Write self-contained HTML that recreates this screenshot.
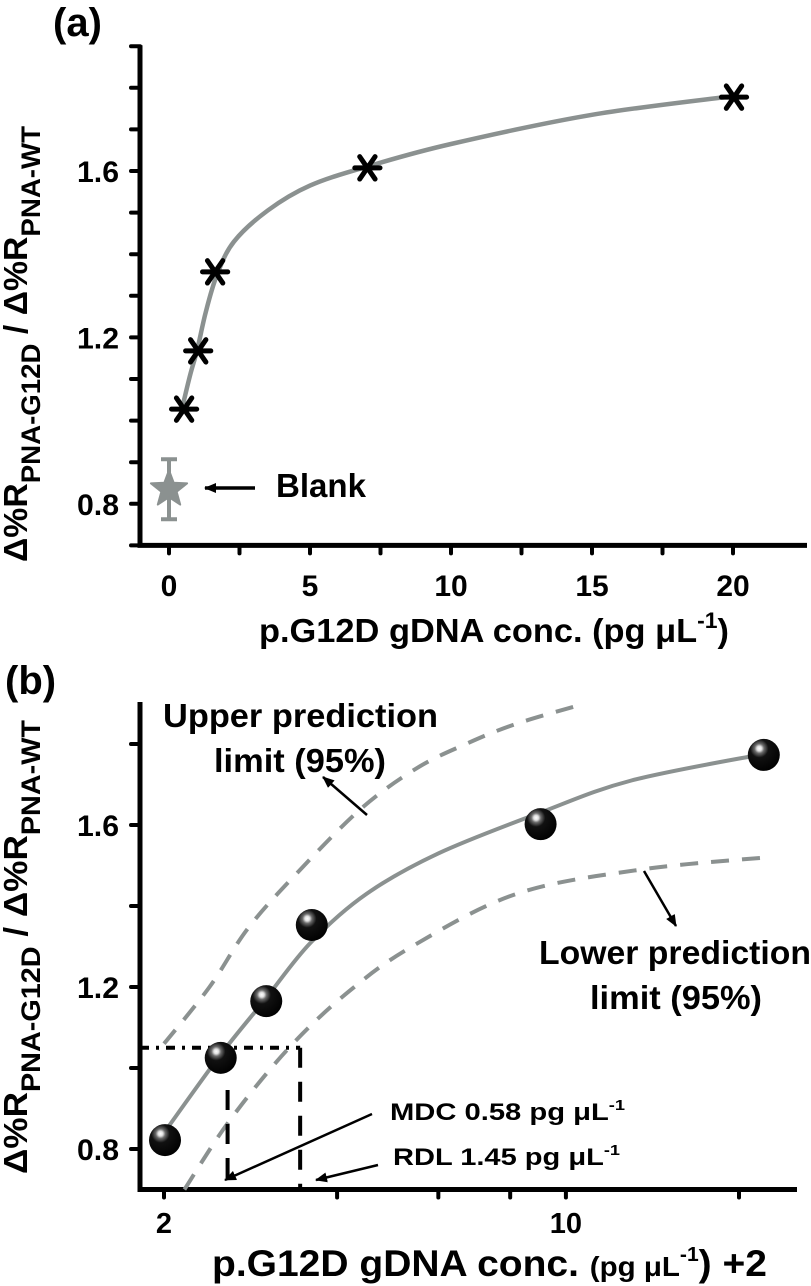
<!DOCTYPE html>
<html><head><meta charset="utf-8"><style>
html,body{margin:0;padding:0;background:#fff;}
svg{display:block;font-family:"Liberation Sans",sans-serif;font-weight:bold;}
</style></head><body>
<svg id="fig" width="811" height="1286" viewBox="0 0 811 1286" xmlns="http://www.w3.org/2000/svg">
<defs>
<radialGradient id="ball" cx="0.36" cy="0.3" r="0.75">
<stop offset="0" stop-color="#ffffff"/><stop offset="0.1" stop-color="#e0e0e0"/><stop offset="0.2" stop-color="#6a6a6a"/><stop offset="0.38" stop-color="#111"/><stop offset="1" stop-color="#000"/>
</radialGradient>
<marker id="arr" markerWidth="12" markerHeight="10" refX="11" refY="5" orient="auto" markerUnits="userSpaceOnUse"><path d="M0,0 L12,5 L0,10 z" fill="#000"/></marker>
</defs>
<g id="pa"></g>
<g id="pb"></g>
</svg>
<script>
// ---- Panel (a) data ----
const aConc = [0.5, 1, 1.6, 7, 20];
const aRatio = [1.03, 1.17, 1.36, 1.61, 1.78];
const aBlankConc = [0];
const aBlankRatio = [0.835];
const aBlankErr = [0.072];
const aFitX = [0.5, 0.75, 1, 1.3, 1.7, 2.3, 3.5, 5, 7, 10, 15, 20];
const aFitY = [1.04, 1.11, 1.17, 1.26, 1.35, 1.43, 1.505, 1.565, 1.61, 1.665, 1.735, 1.78];
const aXTicks = [0, 5, 10, 15, 20];
const aXMinor = [2.5, 7.5, 12.5, 17.5];
const aYTicks = [0.8, 1.2, 1.6];
const aYMinor = [0.7, 0.9, 1.0, 1.1, 1.3, 1.4, 1.5, 1.7, 1.8, 1.9];
// ---- Panel (b) data ----
const bConc = [2, 2.5, 3, 3.6, 9, 22];
const bRatio = [0.827, 1.03, 1.17, 1.358, 1.607, 1.778];
const bFitX = [2, 2.5, 3, 3.6, 4.5, 6, 9, 13, 22];
const bFitY = [0.84, 1.03, 1.17, 1.31, 1.43, 1.53, 1.63, 1.71, 1.775];
const bUpX = [2, 2.4, 2.8, 3.4, 4.4, 5.5, 6.7, 8.2, 10.8];
const bUpY = [1.06, 1.2, 1.345, 1.48, 1.64, 1.74, 1.80, 1.85, 1.90];
const bLoX = [2.17, 2.6, 3.3, 4.2, 5.4, 8.2, 13.5, 22.3];
const bLoY = [0.70, 0.87, 1.05, 1.19, 1.30, 1.43, 1.49, 1.52];
const bMDC = [2.58];
const bRDL = [3.45];
const bCritical = [1.05];
const bXTicks = [2, 10];
const bXMinor = [4, 6, 8, 20];
const bYTicks = [0.8, 1.2, 1.6];
const bYMinor = [1.0, 1.4, 1.8];

const NS = "http://www.w3.org/2000/svg";
function mk(parent, tag, attrs, text){
  const e = document.createElementNS(NS, tag);
  for (const k in attrs) e.setAttribute(k, attrs[k]);
  if (text !== undefined) e.textContent = text;
  parent.appendChild(e);
  return e;
}
const GRAY = "#8b9190";
const ax = v => 169 + v * 28.2;
const ay = v => 171 + (1.6 - v) * 416;
const bx = v => 164 + Math.log10(v / 2) * 575;
const by = v => 825 + (1.6 - v) * 405;

function smooth(pts){
  let d = 'M' + pts[0][0].toFixed(1) + ' ' + pts[0][1].toFixed(1);
  for (let i = 0; i < pts.length - 1; i++){
    const p0 = pts[i-1] || pts[i], p1 = pts[i], p2 = pts[i+1], p3 = pts[i+2] || p2;
    const c1 = [p1[0] + (p2[0]-p0[0])/6, p1[1] + (p2[1]-p0[1])/6];
    const c2 = [p2[0] - (p3[0]-p1[0])/6, p2[1] - (p3[1]-p1[1])/6];
    d += ` C${c1[0].toFixed(1)} ${c1[1].toFixed(1)} ${c2[0].toFixed(1)} ${c2[1].toFixed(1)} ${p2[0].toFixed(1)} ${p2[1].toFixed(1)}`;
  }
  return d;
}

const pa = document.getElementById('pa');
const pb = document.getElementById('pb');

// ===== Panel A =====
let t = mk(pa, 'text', {x: 53, y: 36, 'font-size': 40});
t.textContent = '(a)';



let l = mk(pa, 'path', {d: `M140 ${ay(1.9)-1} V${ay(0.7)} H807`, stroke: '#000', 'stroke-width': 5, fill: 'none'});


aYTicks.concat(aYMinor).forEach(v => {
  const tk = mk(pa, 'line', {x1: 131, x2: 140, y1: ay(v), y2: ay(v), stroke: '#000', 'stroke-width': 4, 'stroke-linecap': 'round'});
  
  
});
aYTicks.forEach(v => {
  const tl = mk(pa, 'text', {x: 119, y: ay(v) + 11, 'font-size': 30, 'text-anchor': 'end', textLength: 42, lengthAdjust: 'spacingAndGlyphs'}, v.toFixed(1));
  
  
});
aXTicks.concat(aXMinor).forEach(v => {
  const tk = mk(pa, 'line', {x1: ax(v), x2: ax(v), y1: ay(0.7), y2: ay(0.7) + 8, stroke: '#000', 'stroke-width': 4, 'stroke-linecap': 'round'});
  
  
});
aXTicks.forEach(v => {
  const tl = mk(pa, 'text', {x: ax(v), y: 596, 'font-size': 30, 'text-anchor': 'middle'}, String(v));
  
  
});
l = mk(pa, 'path', {d: smooth(aFitX.map((x, i) => [ax(x), ay(aFitY[i])])), stroke: GRAY, 'stroke-width': 4.5, fill: 'none'});


aConc.forEach((c, i) => {
  const cx = ax(c) + 1, cy = ay(aRatio[i]) + 1, r = 14;
  const g = mk(pa, 'g', {stroke: '#000', 'stroke-width': 5, 'stroke-linecap': 'round'});
  
  
  mk(g, 'line', {x1: cx - r * 0.9, y1: cy, x2: cx + r * 0.9, y2: cy});
  mk(g, 'line', {x1: cx - r * 0.55, y1: cy - r * 0.8, x2: cx + r * 0.55, y2: cy + r * 0.8});
  mk(g, 'line', {x1: cx + r * 0.55, y1: cy - r * 0.8, x2: cx - r * 0.55, y2: cy + r * 0.8});
});
aBlankConc.forEach((c, i) => {
  const cx = ax(c), cy = ay(aBlankRatio[i]);
  const g = mk(pa, 'g', {});
  
  
  const yt = ay(aBlankRatio[i] + aBlankErr[i]), yb = ay(aBlankRatio[i] - aBlankErr[i]);
  mk(g, 'path', {d: `M${cx-8} ${yt} H${cx+8} M${cx} ${yt} V${yb} M${cx-8} ${yb} H${cx+8}`, stroke: GRAY, 'stroke-width': 4, fill: 'none'});
  let pts = [];
  for (let k = 0; k < 10; k++) {
    const ang = -Math.PI / 2 + k * Math.PI / 5, rr = k % 2 ? 8 : 19;
    pts.push((cx + rr * Math.cos(ang)).toFixed(1) + ',' + (cy + rr * Math.sin(ang)).toFixed(1));
  }
  mk(g, 'polygon', {points: pts.join(' '), fill: GRAY, stroke: GRAY, 'stroke-width': 2, 'stroke-linejoin': 'round'});
});
l = mk(pa, 'line', {x1: 255, y1: 488, x2: 205, y2: 488, stroke: '#000', 'stroke-width': 3.5, 'marker-end': 'url(#arr)'});


t = mk(pa, 'text', {x: 276, y: 497, 'font-size': 33, textLength: 90, lengthAdjust: 'spacingAndGlyphs'}, 'Blank');


t = mk(pa, 'text', {x: 0, y: 0, 'font-size': 33, transform: 'translate(27,562) rotate(-90)', textLength: 436, lengthAdjust: 'spacingAndGlyphs'});
t.innerHTML = 'Δ%R<tspan font-size="27" dy="13">PNA-G12D</tspan><tspan dy="-13"> / Δ%R</tspan><tspan font-size="27" dy="13">PNA-WT</tspan>';


t = mk(pa, 'text', {x: 259, y: 642, 'font-size': 33, textLength: 470, lengthAdjust: 'spacingAndGlyphs'});
t.innerHTML = 'p.G12D gDNA conc. (pg μL<tspan font-size="22" dy="-14">-1</tspan><tspan dy="14">)</tspan>';



// ===== Panel B =====
t = mk(pb, 'text', {x: 5, y: 694, 'font-size': 40});
t.textContent = '(b)';



l = mk(pb, 'path', {d: `M140 702 V${by(0.7)} H797`, stroke: '#000', 'stroke-width': 5, fill: 'none'});


bYTicks.concat(bYMinor).forEach(v => {
  const tk = mk(pb, 'line', {x1: 131, x2: 140, y1: by(v), y2: by(v), stroke: '#000', 'stroke-width': 4, 'stroke-linecap': 'round'});
  
  
});
bYTicks.forEach(v => {
  const tl = mk(pb, 'text', {x: 119, y: by(v) + 11, 'font-size': 30, 'text-anchor': 'end', textLength: 42, lengthAdjust: 'spacingAndGlyphs'}, v.toFixed(1));
  
  
});
bXTicks.concat(bXMinor).forEach(v => {
  const tk = mk(pb, 'line', {x1: bx(v), x2: bx(v), y1: by(0.7), y2: by(0.7) + 8, stroke: '#000', 'stroke-width': 4, 'stroke-linecap': 'round'});
  
  
});
bXTicks.forEach(v => {
  const tl = mk(pb, 'text', {x: bx(v), y: 1233, 'font-size': 29, 'text-anchor': 'middle'}, String(v));
  
  
});
l = mk(pb, 'path', {d: smooth(bUpX.map((x, i) => [bx(x), by(bUpY[i])])), stroke: GRAY, 'stroke-width': 4, fill: 'none', 'stroke-dasharray': '18 13'});


l = mk(pb, 'path', {d: smooth(bLoX.map((x, i) => [bx(x), by(bLoY[i])])), stroke: GRAY, 'stroke-width': 4, fill: 'none', 'stroke-dasharray': '18 13'});


l = mk(pb, 'line', {x1: 140, y1: by(bCritical[0]), x2: bx(bRDL[0]), y2: by(bCritical[0]), stroke: '#000', 'stroke-width': 4, 'stroke-dasharray': '9 7 3 7'});


l = mk(pb, 'line', {x1: bx(bRDL[0]), y1: by(bCritical[0]), x2: bx(bRDL[0]), y2: by(0.7), stroke: '#000', 'stroke-width': 4, 'stroke-dasharray': '20 14'});


l = mk(pb, 'line', {x1: bx(bMDC[0]), y1: 1090, x2: bx(bMDC[0]), y2: by(0.7), stroke: '#000', 'stroke-width': 4, 'stroke-dasharray': '20 14'});


l = mk(pb, 'path', {d: smooth(bFitX.map((x, i) => [bx(x), by(bFitY[i])])), stroke: GRAY, 'stroke-width': 4, fill: 'none'});


bConc.forEach((c, i) => {
  const cx = bx(c) + 1, cy = by(bRatio[i]) + 2;
  const e = mk(pb, 'ellipse', {cx: cx, cy: cy, rx: 16, ry: 16, fill: 'url(#ball)'});
  
  
});
function arrow(x1, y1, x2, y2, name){
  const a = mk(pb, 'line', {x1, y1, x2, y2, stroke: '#000', 'stroke-width': 2.5, 'marker-end': 'url(#arr)'});
  
  
}
arrow(367, 815, 323, 777, 'upper-limit-arrow');
arrow(644, 871, 676, 926, 'lower-limit-arrow');
arrow(372, 1114, 225, 1180, 'mdc-arrow');
arrow(378, 1165, 316, 1180, 'rdl-arrow');
t = mk(pb, 'text', {x: 163, y: 727, 'font-size': 33, textLength: 275, lengthAdjust: 'spacingAndGlyphs'}, 'Upper prediction');


t = mk(pb, 'text', {x: 214, y: 772, 'font-size': 33, textLength: 172, lengthAdjust: 'spacingAndGlyphs'}, 'limit (95%)');


t = mk(pb, 'text', {x: 539, y: 964, 'font-size': 33, textLength: 272, lengthAdjust: 'spacingAndGlyphs'}, 'Lower prediction');


t = mk(pb, 'text', {x: 590, y: 1009, 'font-size': 33, textLength: 172, lengthAdjust: 'spacingAndGlyphs'}, 'limit (95%)');


t = mk(pb, 'text', {x: 390, y: 1120, 'font-size': 24, textLength: 235, lengthAdjust: 'spacingAndGlyphs'});
t.innerHTML = 'MDC 0.58 pg μL<tspan font-size="15" dy="-10">-1</tspan>';


t = mk(pb, 'text', {x: 393, y: 1165, 'font-size': 24, textLength: 227, lengthAdjust: 'spacingAndGlyphs'});
t.innerHTML = 'RDL 1.45 pg μL<tspan font-size="15" dy="-10">-1</tspan>';


t = mk(pb, 'text', {x: 0, y: 0, 'font-size': 33, transform: 'translate(27,1174) rotate(-90)', textLength: 454, lengthAdjust: 'spacingAndGlyphs'});
t.innerHTML = 'Δ%R<tspan font-size="27" dy="13">PNA-G12D</tspan><tspan dy="-13"> / Δ%R</tspan><tspan font-size="27" dy="13">PNA-WT</tspan>';


t = mk(pb, 'text', {x: 212, y: 1276, 'font-size': 37, textLength: 555, lengthAdjust: 'spacingAndGlyphs'});
t.innerHTML = 'p.G12D gDNA conc. <tspan font-size="28">(pg μL</tspan><tspan font-size="20" dy="-15">-1</tspan><tspan dy="15">) +2</tspan>';


</script>
</body></html>
